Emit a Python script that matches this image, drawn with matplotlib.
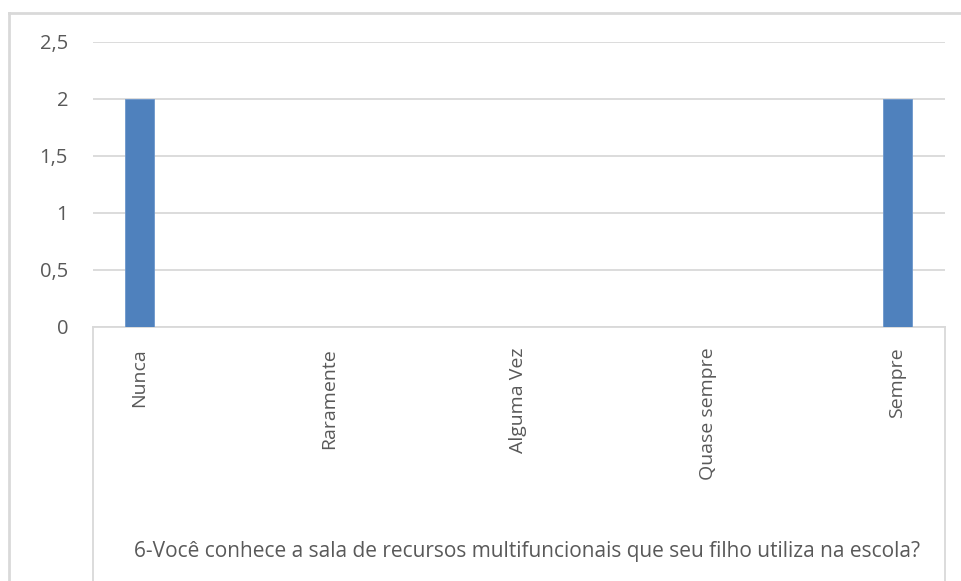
import matplotlib.pyplot as plt
from matplotlib.lines import Line2D

categories = ['Nunca', 'Raramente', 'Alguma Vez', 'Quase sempre', 'Sempre']
values = [2, 0, 0, 0, 2]
yticks = [0, 0.5, 1, 1.5, 2, 2.5]
ytick_labels = ['0', '0,5', '1', '1,5', '2', '2,5']
question = '6-Você conhece a sala de recursos multifuncionais que seu filho utiliza na escola?'

W, H = 962, 581
fig = plt.figure(figsize=(W / 100, H / 100), dpi=100)
plt.rcParams['font.family'] = ['Open Sans', 'DejaVu Sans']

# plot area in pixels
x0, x1, ytop, ybot = 93, 945, 42, 327
ax = fig.add_axes([x0 / W, 1 - ybot / H, (x1 - x0) / W, (ybot - ytop) / H])

grey = '#D9D9D9'
text_col = '#595959'

xs = list(range(len(categories)))
ax.bar(xs, values, width=0.153, color='#4F81BD', edgecolor='#6C97CC', linewidth=0.6, zorder=3)

ax.set_xlim(-0.2455, 4.253)
ax.set_ylim(0, 2.5)
ax.set_yticks(yticks)
ax.set_yticklabels(ytick_labels)
ax.yaxis.grid(True, color=grey, linewidth=1.3)
ax.set_axisbelow(True)

ax.set_xticks(xs)
ax.set_xticklabels(categories, rotation=90, va='top', ha='center')
ax.tick_params(axis='x', length=0, pad=15, labelsize=14, colors=text_col)
ax.tick_params(axis='y', length=0, pad=18, labelsize=14.5, colors=text_col)

for s in ['top', 'left', 'right']:
    ax.spines[s].set_visible(False)
ax.spines['bottom'].set_color(grey)
ax.spines['bottom'].set_linewidth(1.3)

# box lines below the axis
for xp in (x0, x1):
    fig.add_artist(Line2D([xp / W, xp / W], [0, 1 - ybot / H], color=grey, linewidth=1.3))

# outer chart border (top and left visible)
fig.add_artist(Line2D([9 / W, 1], [1 - 13 / H, 1 - 13 / H], color=grey, linewidth=2))
fig.add_artist(Line2D([9 / W, 9 / W], [0, 1 - 13 / H], color=grey, linewidth=2))

fig.text(527.5 / W, 1 - 552 / H, question, ha='center', va='center', fontsize=15, color=text_col)

fig.savefig('out.png', dpi=100)
